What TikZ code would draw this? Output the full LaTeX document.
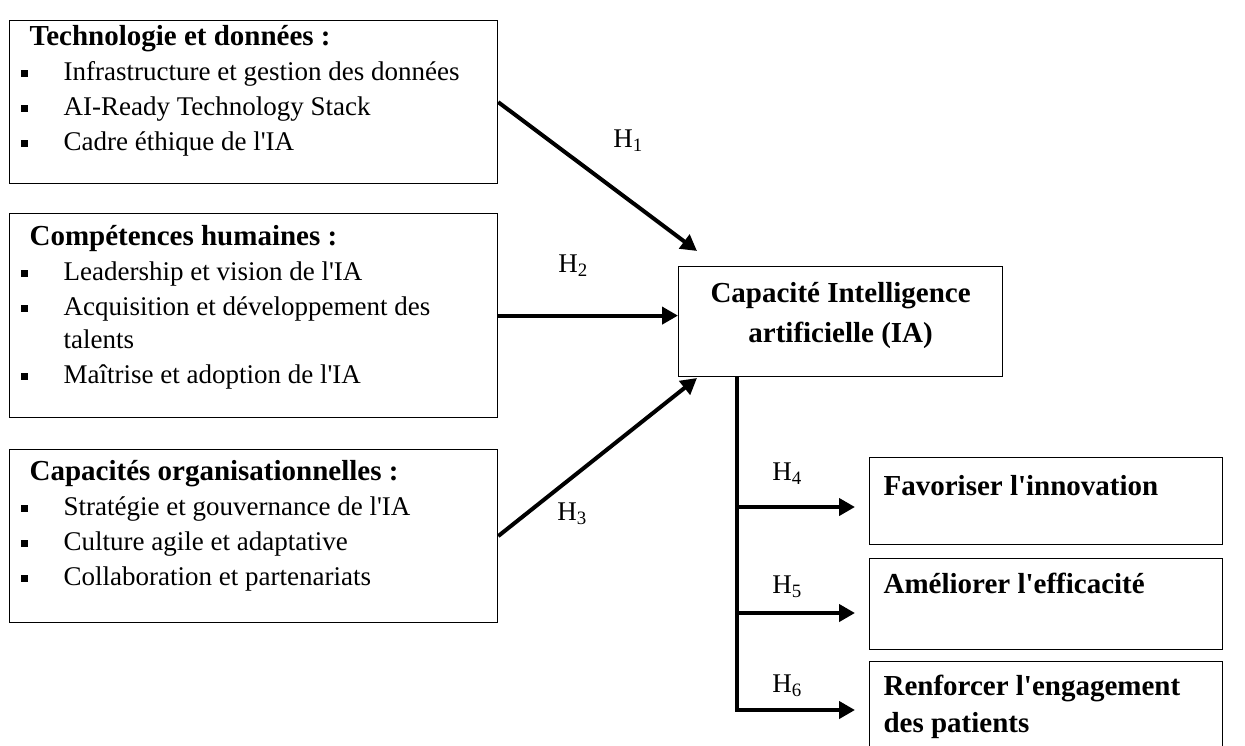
\documentclass[tikz,border=0pt]{standalone}
\usepackage{fontspec}
\setmainfont{Liberation Serif}[Ligatures=TeXOff]
\usetikzlibrary{arrows.meta}
\newcommand{\titre}[2][15.5pt]{\noindent\rule{0pt}{#1}\hspace*{10pt}{\fontsize{14.5}{16.5}\bfseries #2}\par}
\newcommand{\puce}[1]{{\leftskip=27pt\noindent\llap{\rule[2pt]{3.5pt}{3.5pt}\hspace{18pt}}#1\par}}
\begin{document}
\begin{tikzpicture}[x=0.5pt,y=-0.5pt,
  bloc/.style={draw=black, line width=0.6pt, inner sep=0pt, anchor=north west},
  liste/.style={font=\fontsize{13.5}{16.5}\selectfont},
  fleche/.style={line width=2pt, -{Triangle[length=8pt,width=8.5pt]}},
  etiq/.style={anchor=base west, inner sep=0pt, font=\fontsize{13.5}{16}\selectfont}]
\useasboundingbox (0,0) rectangle (1245,745);
\node [bloc, liste] (tech) at (9,20) {\parbox[t][81.5pt][t]{244pt}{\setlength{\parskip}{1pt}%
  \titre[12.5pt]{Technologie et données :}
  \puce{Infrastructure et gestion des données}
  \puce{AI-Ready Technology Stack}
  \puce{Cadre éthique de l'IA}}};
\node [bloc, liste] (comp) at (9,213) {\parbox[t][102pt][t]{244pt}{\setlength{\parskip}{1pt}%
  \titre[16pt]{Compétences humaines :}
  \puce{Leadership et vision de l'IA}
  \puce{Acquisition et développement des\\talents}
  \puce{Maîtrise et adoption de l'IA}}};
\node [bloc, liste] (orga) at (9,449) {\parbox[t][86.5pt][t]{244pt}{\setlength{\parskip}{1pt}%
  \titre[15.5pt]{Capacités organisationnelles :}
  \puce{Stratégie et gouvernance de l'IA}
  \puce{Culture agile et adaptative}
  \puce{Collaboration et partenariats}}};
\node [bloc] (ia) at (678,266) {\parbox[t][55pt][t]{162pt}{\centering\fontsize{14.5}{20}\bfseries
  \rule{0pt}{18pt}Capacité Intelligence\\artificielle (IA)}};
\node [bloc] (fav) at (869,457) {\parbox[t][43.5pt][t]{176.5pt}{\leftskip=7pt\fontsize{14.5}{18.5}\bfseries
  \rule{0pt}{19pt}Favoriser l'innovation}};
\node [bloc] (eff) at (869,558) {\parbox[t][45.5pt][t]{176.5pt}{\leftskip=7pt\fontsize{14.5}{18.5}\bfseries
  \rule{0pt}{17.5pt}Améliorer l'efficacité}};
\node [bloc] (ren) at (869,661) {\parbox[t][50pt][t]{176.5pt}{\leftskip=7pt\fontsize{14.5}{18.5}\bfseries
  \rule{0pt}{17pt}Renforcer l'engagement\\des patients}};
\coordinate (b1) at (697,251);
\coordinate (b3) at (697,378);
\coordinate (t0) at (737,376);
\coordinate (t4) at (737,507);
\coordinate (t5) at (737,613);
\coordinate (t6) at (737,710);
\draw [fleche] (tech.east) -- (b1);
\draw [fleche] (comp.east) -- (comp.east -| ia.west);
\draw [fleche] (orga.east) -- (b3);
\draw [fleche, shorten >=7pt] (t0) |- (t6 -| ren.west);
\draw [fleche, shorten >=7pt] (t4) -- (t4 -| fav.west);
\draw [fleche, shorten >=7pt] (t5) -- (t5 -| eff.west);
\node [etiq] (h1) at (613,147) {H\textsubscript{1}};
\node [etiq] (h2) at (558,272) {H\textsubscript{2}};
\node [etiq] (h3) at (557,520) {H\textsubscript{3}};
\node [etiq] (h4) at (772,480) {H\textsubscript{4}};
\node [etiq] (h5) at (772,593) {H\textsubscript{5}};
\node [etiq] (h6) at (772,692) {H\textsubscript{6}};
\end{tikzpicture}
\end{document}
